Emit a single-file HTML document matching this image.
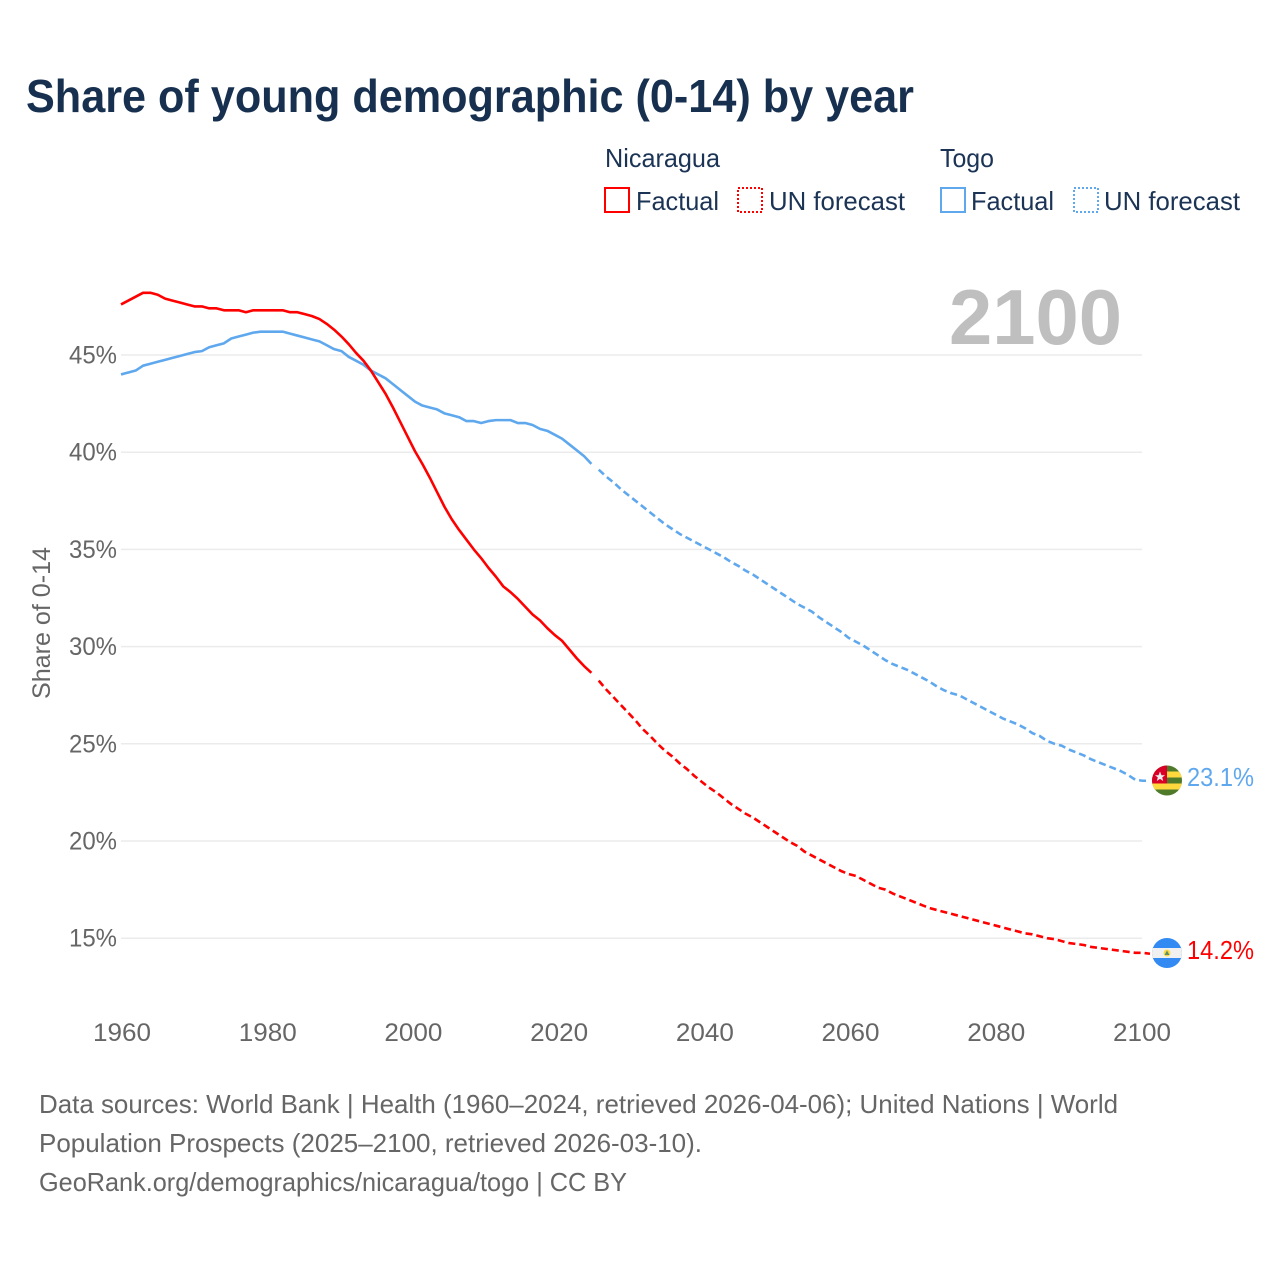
<!DOCTYPE html>
<html lang="en">
<head>
<meta charset="utf-8">
<title>Share of young demographic (0-14) by year</title>
<style>
html,body{margin:0;padding:0;background:#fff;}
svg{display:block;font-family:"Liberation Sans",sans-serif;}
</style>
</head>
<body>
<svg id="chart" xmlns="http://www.w3.org/2000/svg" width="1280" height="1280" viewBox="0 0 1280 1280">
<defs>
<clipPath id="flag-clip-togo"><circle cx="1167" cy="780.5" r="15"/></clipPath>
<clipPath id="flag-clip-nicaragua"><circle cx="1167" cy="953" r="15"/></clipPath>
</defs>
<rect width="1280" height="1280" fill="#fff"/>
<text x="26" y="112" font-size="46" font-weight="700" fill="#17304f" textLength="888" lengthAdjust="spacingAndGlyphs">Share of young demographic (0-14) by year</text>

<g font-size="26" fill="#1b3354">
<text x="605" y="167" textLength="115" lengthAdjust="spacingAndGlyphs">Nicaragua</text>
<text x="940" y="167" textLength="54" lengthAdjust="spacingAndGlyphs">Togo</text>
<rect x="605" y="188" width="24" height="24" fill="none" stroke="#ff0000" stroke-width="2"/>
<text x="636" y="210" textLength="83" lengthAdjust="spacingAndGlyphs">Factual</text>
<rect x="738" y="188" width="24" height="24" fill="none" stroke="#ff0000" stroke-width="2" stroke-dasharray="2 2"/>
<text x="769" y="210" textLength="136" lengthAdjust="spacingAndGlyphs">UN forecast</text>
<rect x="941" y="188" width="24" height="24" fill="none" stroke="#5fa8ee" stroke-width="2"/>
<text x="971" y="210" textLength="83" lengthAdjust="spacingAndGlyphs">Factual</text>
<rect x="1074" y="188" width="24" height="24" fill="none" stroke="#5fa8ee" stroke-width="2" stroke-dasharray="2 2"/>
<text x="1104" y="210" textLength="136" lengthAdjust="spacingAndGlyphs">UN forecast</text>
</g>

<g id="grid"></g>
<text x="949" y="344" font-size="78" font-weight="700" fill="#bfbfbf" textLength="173" lengthAdjust="spacingAndGlyphs">2100</text>
<g id="y-ticks" font-size="25" fill="#666"></g>
<g id="x-ticks" font-size="25" fill="#666"></g>
<text transform="translate(50,699) rotate(-90)" font-size="25" fill="#666" textLength="152" lengthAdjust="spacingAndGlyphs">Share of 0-14</text>
<g id="series"></g>

<g clip-path="url(#flag-clip-togo)">
<rect x="1152" y="765" width="30" height="32" fill="#4e7a2a"/>
<rect x="1152" y="771.5" width="30" height="6" fill="#ffd83d"/>
<rect x="1152" y="783.5" width="30" height="6" fill="#ffd83d"/>
<rect x="1152" y="765" width="15" height="18.5" fill="#d80027"/>
<polygon points="1160,771.5 1161.5,775.2 1165,775.2 1162.2,777.4 1163.2,781 1160,778.9 1156.8,781 1157.8,777.4 1155,775.2 1158.5,775.2" fill="#f0f0f0"/>
</g>
<text x="1187" y="786" font-size="26" fill="#5fa8ee" textLength="67" lengthAdjust="spacingAndGlyphs">23.1%</text>

<g clip-path="url(#flag-clip-nicaragua)">
<rect x="1152" y="938" width="30" height="30" fill="#338af3"/>
<rect x="1152" y="948" width="30" height="10" fill="#f0f0f0"/>
<circle cx="1167" cy="953" r="3.5" fill="#ffda44"/>
<polygon points="1167,950.5 1169.5,955 1164.5,955" fill="#5b8f6a"/>
</g>
<text x="1187" y="959" font-size="26" fill="#ff0000" textLength="67" lengthAdjust="spacingAndGlyphs">14.2%</text>

<g font-size="26" fill="#666">
<text x="39" y="1113" textLength="1079" lengthAdjust="spacingAndGlyphs">Data sources: World Bank | Health (1960–2024, retrieved 2026-04-06); United Nations | World</text>
<text x="39" y="1152" textLength="663" lengthAdjust="spacingAndGlyphs">Population Prospects (2025–2100, retrieved 2026-03-10).</text>
<text x="39" y="1191" textLength="588" lengthAdjust="spacingAndGlyphs">GeoRank.org/demographics/nicaragua/togo | CC BY</text>
</g>
</svg>
<script>
const yTickValues = [15, 20, 25, 30, 35, 40, 45];
const xTickYears = [1960, 1980, 2000, 2020, 2040, 2060, 2080, 2100];
const factualStartYear = 1960;
const forecastStartYear = 2025;
const nicaraguaFactual = [47.6,47.8,48.0,48.2,48.2,48.1,47.9,47.8,47.7,47.6,47.5,47.5,47.4,47.4,47.3,47.3,47.3,47.2,47.3,47.3,47.3,47.3,47.3,47.2,47.2,47.1,47.0,46.85,46.6,46.3,45.95,45.55,45.1,44.7,44.2,43.6,43.0,42.3,41.55,40.8,40.05,39.4,38.7,37.95,37.2,36.55,36.0,35.5,35.0,34.55,34.05,33.6,33.1,32.8,32.45,32.05,31.65,31.35,30.95,30.6,30.3,29.85,29.4,29.0,28.65];
const nicaraguaForecast = [28.25,27.8,27.4,27.0,26.6,26.2,25.75,25.4,25.0,24.65,24.35,24.0,23.7,23.35,23.05,22.75,22.5,22.2,21.9,21.65,21.4,21.2,20.95,20.7,20.45,20.2,19.95,19.75,19.45,19.25,19.05,18.85,18.65,18.45,18.3,18.2,18.0,17.8,17.6,17.5,17.3,17.15,17.0,16.85,16.7,16.55,16.45,16.35,16.25,16.15,16.05,15.95,15.85,15.75,15.65,15.55,15.45,15.35,15.25,15.2,15.1,15.0,14.95,14.85,14.75,14.7,14.65,14.55,14.5,14.45,14.4,14.35,14.3,14.25,14.25,14.2];
const togoFactual = [44.0,44.1,44.2,44.45,44.55,44.65,44.75,44.85,44.95,45.05,45.15,45.2,45.4,45.5,45.6,45.85,45.95,46.05,46.15,46.2,46.2,46.2,46.2,46.1,46.0,45.9,45.8,45.7,45.5,45.3,45.2,44.9,44.7,44.5,44.2,44.0,43.8,43.5,43.2,42.9,42.6,42.4,42.3,42.2,42.0,41.9,41.8,41.6,41.6,41.5,41.6,41.65,41.65,41.65,41.5,41.5,41.4,41.2,41.1,40.9,40.7,40.4,40.1,39.8,39.4];
const togoForecast = [39.1,38.75,38.45,38.1,37.8,37.5,37.2,36.9,36.6,36.3,36.05,35.8,35.6,35.4,35.2,35.0,34.8,34.6,34.35,34.15,33.9,33.7,33.45,33.2,32.95,32.7,32.45,32.2,32.0,31.8,31.5,31.25,31.0,30.75,30.45,30.25,30.05,29.8,29.55,29.3,29.1,28.95,28.8,28.6,28.4,28.2,27.95,27.75,27.6,27.5,27.3,27.1,26.9,26.7,26.5,26.3,26.15,26.0,25.8,25.55,25.4,25.15,25.0,24.9,24.7,24.55,24.4,24.2,24.05,23.9,23.75,23.6,23.4,23.15,23.1,23.1];

const NS = 'http://www.w3.org/2000/svg';
function xMark(year) { return 121 + (year - 1960) * 7.35; }
function xTick(year) { return 122 + (year - 1960) * 7.2857; }
function yScale(value) { return 355 + (45 - value) * 19.44; }

function linePath(values, startYear) {
  return values.map(function (v, i) {
    return (i ? 'L' : 'M') + xMark(startYear + i).toFixed(2) + ' ' + yScale(v).toFixed(2);
  }).join('');
}

const gridGroup = document.getElementById('grid');
const yGroup = document.getElementById('y-ticks');
yTickValues.forEach(function (v) {
  const line = document.createElementNS(NS, 'line');
  
  
  line.setAttribute('x1', 121);
  line.setAttribute('x2', 1142);
  line.setAttribute('y1', yScale(v));
  line.setAttribute('y2', yScale(v));
  line.setAttribute('stroke', '#ebebeb');
  line.setAttribute('stroke-width', 1.5);
  gridGroup.appendChild(line);
  const label = document.createElementNS(NS, 'text');
  
  
  label.setAttribute('x', 69);
  label.setAttribute('y', yScale(v) + 8.5);
  label.setAttribute('textLength', 48);
  label.setAttribute('lengthAdjust', 'spacingAndGlyphs');
  label.textContent = v + '%';
  yGroup.appendChild(label);
});

const xGroup = document.getElementById('x-ticks');
xTickYears.forEach(function (year) {
  const label = document.createElementNS(NS, 'text');
  
  
  label.setAttribute('x', xTick(year) - 29);
  label.setAttribute('y', 1041);
  label.setAttribute('textLength', 58);
  label.setAttribute('lengthAdjust', 'spacingAndGlyphs');
  label.textContent = year;
  xGroup.appendChild(label);
});

const seriesGroup = document.getElementById('series');
function drawLine(name, values, startYear, color, dash) {
  const path = document.createElementNS(NS, 'path');
  
  
  path.setAttribute('d', linePath(values, startYear));
  path.setAttribute('fill', 'none');
  path.setAttribute('stroke', color);
  path.setAttribute('stroke-width', 2.6);
  path.setAttribute('stroke-linejoin', 'round');
  if (dash) path.setAttribute('stroke-dasharray', dash);
  seriesGroup.appendChild(path);
}
drawLine('line-togo-factual', togoFactual, factualStartYear, '#5fa8ee');
drawLine('line-togo-forecast', togoForecast, forecastStartYear, '#5fa8ee', '7 4');
drawLine('line-nicaragua-factual', nicaraguaFactual, factualStartYear, '#ff0000');
drawLine('line-nicaragua-forecast', nicaraguaForecast, forecastStartYear, '#ff0000', '7 4');
</script>
</body>
</html>
